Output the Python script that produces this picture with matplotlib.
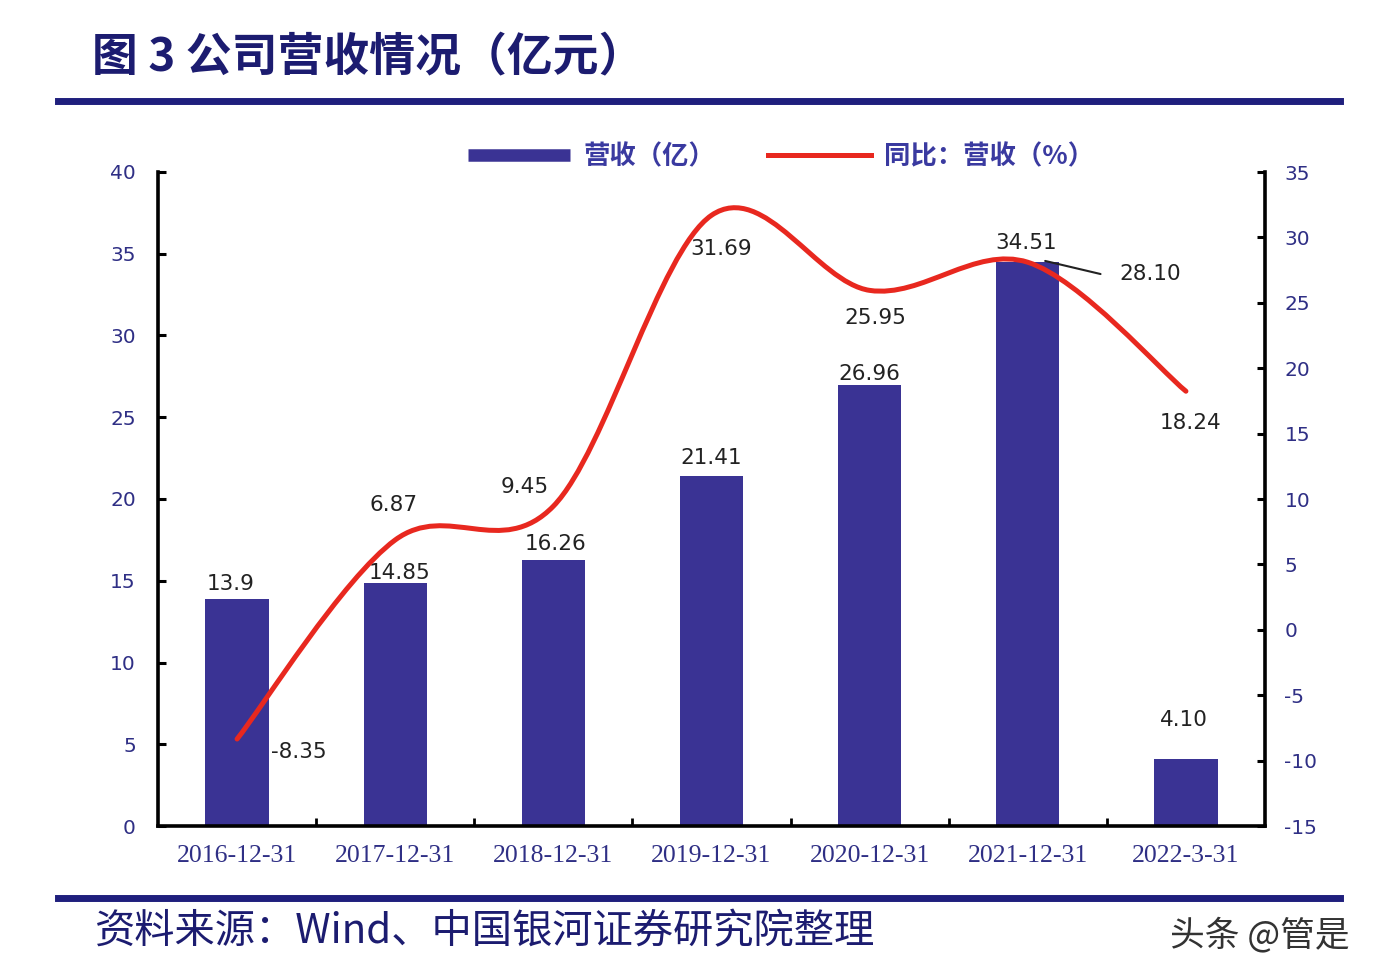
import numpy as np
import matplotlib.pyplot as plt
from matplotlib.path import Path
from matplotlib.patches import PathPatch
from matplotlib.lines import Line2D

plt.rcParams['font.family'] = ['Noto Sans CJK SC', 'DejaVu Sans']
plt.rcParams['axes.unicode_minus'] = False

# 数据
categories = ['2016-12-31', '2017-12-31', '2018-12-31', '2019-12-31',
              '2020-12-31', '2021-12-31', '2022-3-31']
revenue = [13.9, 14.85, 16.26, 21.41, 26.96, 34.51, 4.10]
revenue_labels = ['13.9', '14.85', '16.26', '21.41', '26.96', '34.51', '4.10']
yoy = [-8.35, 6.87, 9.45, 31.69, 25.95, 28.10, 18.24]
yoy_labels = ['-8.35', '6.87', '9.45', '31.69', '25.95', '28.10', '18.24']

navy = '#3a3394'
tick_c = '#2f2f85'
title_c = '#1c1c70'
red = '#e8281f'
txt_c = '#222222'

fig = plt.figure(figsize=(13.8, 9.8), dpi=100)
ax = fig.add_axes([158 / 1380, 1 - 826 / 980, (1265 - 158) / 1380, (826 - 172) / 980])
ax2 = ax.twinx()

x = np.arange(len(categories))
ax.bar(x, revenue, width=0.4, color=navy, zorder=2)
ax.set_xlim(-0.5, len(categories) - 0.5)
ax.set_ylim(0, 40)
ax.set_yticks(np.arange(0, 41, 5))
ax2.set_ylim(-15, 35)
ax2.set_yticks(np.arange(-15, 36, 5))

# 平滑曲线（Catmull-Rom -> Bezier）
pts = np.column_stack([x, yoy]).astype(float)
verts = [pts[0]]
codes = [Path.MOVETO]
n = len(pts)
for i in range(n - 1):
    p0 = pts[max(i - 1, 0)]
    p1 = pts[i]
    p2 = pts[i + 1]
    p3 = pts[min(i + 2, n - 1)]
    c1 = p1 + (p2 - p0) / 6
    c2 = p2 - (p3 - p1) / 6
    verts += [c1, c2, p2]
    codes += [Path.CURVE4] * 3
ax2.add_patch(PathPatch(Path(verts, codes), facecolor='none', edgecolor=red,
                        lw=3.6, capstyle='round', zorder=3))

# 柱标签
lab_kw = dict(fontsize=15.5, color=txt_c, family='DejaVu Sans')
bar_off = [(-6, 5), (4, 0), (2, 6), (0, 8), (0, 1), (-2, 9), (-2, 29)]
for i, (v, s) in enumerate(zip(revenue, revenue_labels)):
    ax.annotate(s, (x[i], v), xytext=bar_off[i], textcoords='offset pixels',
                ha='center', va='bottom', **lab_kw)

# 同比标签
yoy_pos = [(62, -13), (-2, 35), (-29, 19), (10, -34), (6, -28), (122, -12), (5, -32)]
for i, (v, s) in enumerate(zip(yoy, yoy_labels)):
    ax2.annotate(s, (x[i], v), xytext=yoy_pos[i], textcoords='offset pixels',
                 ha='center', va='center', **lab_kw)
ax2.annotate('', (x[5] + 0.11, yoy[5] + 0.1), xytext=(x[5] + 0.46, yoy[5] - 0.9),
             arrowprops=dict(arrowstyle='-', color='#222222', lw=1.5,
                             shrinkA=0, shrinkB=0))

# 坐标轴
for a in (ax, ax2):
    a.spines['top'].set_visible(False)
    for s in ('left', 'right', 'bottom'):
        a.spines[s].set_linewidth(2.6)
        a.spines[s].set_color('black')
ax.spines['right'].set_visible(False)
ax2.spines['left'].set_visible(False)
ax2.spines['bottom'].set_visible(False)

ax.tick_params(axis='y', direction='in', length=6, width=2.2, colors='black',
               labelcolor=tick_c, labelsize=14.5, pad=16)
ax2.tick_params(axis='y', direction='in', length=6, width=2.2, colors='black',
                labelcolor=tick_c, labelsize=14.5, pad=14)
for lbl in ax.get_yticklabels() + ax2.get_yticklabels():
    lbl.set_family('DejaVu Sans')

ax.set_xticks(x)
ax.set_xticklabels(categories, family='Liberation Serif', fontsize=18.5, color=tick_c)
ax.tick_params(axis='x', which='major', length=0, pad=14)
ax.set_xticks(np.arange(0.5, len(categories) - 0.5, 1), minor=True)
ax.tick_params(axis='x', which='minor', direction='in', length=6, width=2, color='black')

# 图例
handles = [Line2D([], [], color=navy, lw=9, solid_capstyle='butt'),
           Line2D([], [], color=red, lw=3.6)]
leg = fig.legend(handles, ['营收（亿）', '同比：营收（%）'], loc='center',
                 bbox_to_anchor=(0.566, 0.84), ncol=2, frameon=False,
                 handlelength=3.9, columnspacing=2.0, handletextpad=0.5,
                 prop={'size': 19, 'weight': 'bold', 'family': ['Noto Sans CJK SC']})
for t in leg.get_texts():
    t.set_color('#3a3aa0')

# 标题与分隔线
fig.text(92 / 1380, 1 - 57 / 980, '图 3 公司营收情况（亿元）', fontsize=33, fontweight='bold',
         color=title_c, va='center', ha='left')
fig.add_artist(Line2D([58 / 1380, 1340 / 1380], [1 - 101 / 980] * 2, color='#1f1f7d', lw=5))
fig.add_artist(Line2D([58 / 1380, 1340 / 1380], [1 - 898 / 980] * 2, color='#1f1f7d', lw=5))

fig.text(95 / 1380, 1 - 932 / 980, '资料来源：Wind、中国银河证券研究院整理', fontsize=29,
         color=title_c, style='italic', va='center', ha='left')
fig.text(1350 / 1380, 1 - 935 / 980, '头条 @管是', fontsize=25, color='#333333',
         va='center', ha='right')

fig.savefig('out.png', dpi=100, facecolor='white')
